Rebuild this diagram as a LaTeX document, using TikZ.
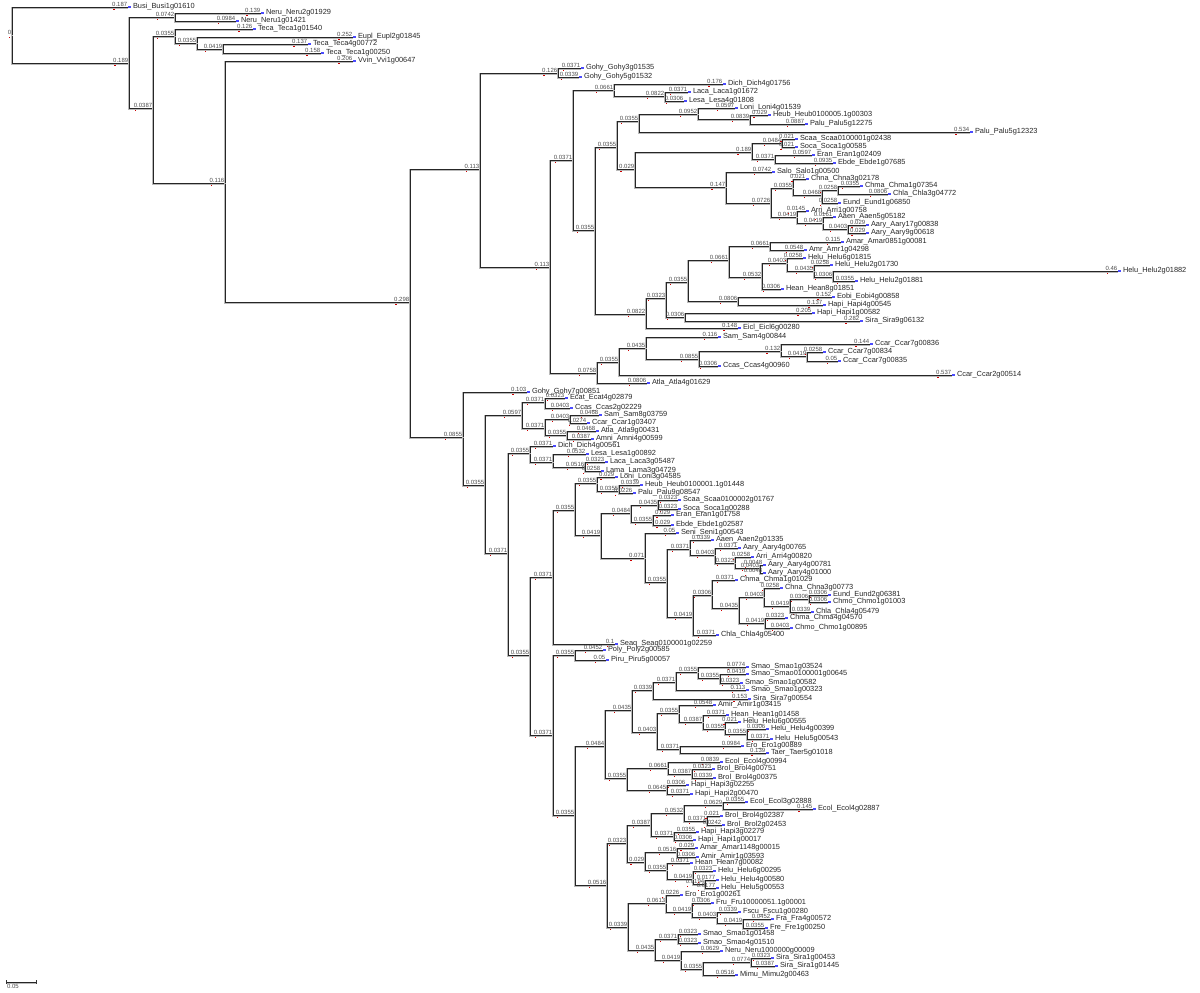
\documentclass[tikz,border=0pt]{standalone}
\usepackage{fontspec}
\setmainfont{Liberation Sans}
\usepackage{tikz}

\newdimen\brxa
\newdimen\brxb
% branch length above a branch, computed from its drawn length
\newcommand{\branchlabel}[2]{%
  \pgfextractx{\brxa}{\pgfpointanchor{#1}{center}}%
  \pgfextractx{\brxb}{\pgfpointanchor{#2}{center}}%
  \pgfmathsetmacro\brlen{(\brxb-\brxa)/310}%
  \pgfmathtruncatemacro\brprec{\brlen<0.1 ? 4 : 3}%
  \node[blen] (#2-bl) at (#2) {\pgfmathprintnumber[fixed,precision=\brprec,assume math mode=true]{\brlen}};%
  \fill[redtick] ([xshift=1pt,yshift=-0.9pt]#2-bl.south west) rectangle ++(0.7pt,-0.7pt);%
}

\begin{document}
\begin{tikzpicture}[x=0.5pt, y=-0.5pt,
    branch/.style={draw=black!85, line width=0.45pt,
      preaction={draw=gray!55, line width=0.75pt, transform canvas={yshift=-0.45pt}}},
    blen/.style={anchor=south east, inner sep=0.2pt, font=\fontsize{3}{3}\selectfont, text=black!70},
    leafname/.style={anchor=west, inner sep=0.3pt, xshift=2pt, font=\fontsize{3.7}{3.7}\selectfont, text=black!85},
    redtick/.style={fill=red!80!black},
    bluetick/.style={fill=blue!70}]
  \useasboundingbox (0,0) rectangle (1200,992);

  % root
  \coordinate (n0) at (12,35);
  \node[blen] (n0-bl) at (n0) {0};
  \fill[redtick] ([xshift=1pt,yshift=-0.9pt]n0-bl.south west) rectangle ++(0.7pt,-0.7pt);

  % internal nodes: parent/name/x/y
  \foreach \p/\n/\x/\y in {n0/nA/129/63, nA/nNeru/175/17, nA/nB/153/108, nB/nTeca/175/36,
      nTeca/nEu/197/43, nEu/nTe2/223/49, nB/nC/225/183, nC/nD/410/302,
      nD/nE/480/169, nE/nGohy/558/73, nE/nG/550/267, nG/nH/573/160, nH/nJ/614/90,
      nJ/nLa/665/96, nH/nK/595/230, nK/nL/617/147, nL/nM/639/121, nM/nLo/698/114,
      nLo/nHe/750/119, nL/nN/635/169, nN/nO/752/152, nO/nSc/782/143, nO/nEr/775/159,
      nN/nP/726/187, nP/nCh/771/203, nCh/nCa/793/188, nCa/nCb/822/195, nCb/nCc/838/190,
      nCh/nAr/797/217, nAr/nAa/823/223, nAa/nAy/848/229, nK/nQ/646/314, nQ/nQ1/666/298,
      nQ1/nQ2/688/282, nQ2/nQ3/729/260, nQ3/nAm/770/246, nQ3/nHl/762/277, nHl/nR/787/263,
      nR/nS/814/271, nS/nT/833/277, nQ2/nEo/738/301, nQ1/nHp/685/317,
      nG/nI/597/373, nI/nI2/619/362, nI2/nSm/646/348, nSm/nCc2/699/359, nCc2/nCc3/781/351,
      nCc3/nCc4/807/356,
      nD/nF/463/437, nF/nF2/485/485, nF2/nF3/522/415, nF3/nBr/545/402, nF3/nSa/545/428,
      nSa/nSa2/570/419, nSa/nAt/567/435, nF2/nF4/508/553, nF4/nDi/530/453, nDi/nLe/553/462,
      nLe/nLa2/585/467, nF4/nF5/530/655, nF5/nU/553/577, nU/nU1/575/510, nU1/nLn/597/483,
      nLn/nHb/619/491, nU1/nU2/601/535, nU2/nSo/631/513, nSo/nSo1/658/505, nSo/nEr2/653/522,
      nU2/nSe/645/558, nSe/nAe/667/582, nAe/nAe1/690/549, nAe1/nAr2/715/555, nAr2/nAr3/735/563,
      nAr3/nAr4/760/568, nAe/nCm/693/617, nCm/nCm1/712/595, nCm1/nCm2/739/608,
      nCm2/nCm3/764/597, nCm3/nCm5/790/606, nCm5/nCm6/809/599, nCm2/nCm4/765/623,
      nF5/nV/553/735, nV/nPo/575/655, nV/nW/575/815, nW/nX/605/746, nX/nSm1/632/710,
      nSm1/nSm2/653/690, nSm2/nSm3/676/682, nSm3/nSm4/698/672, nSm4/nSm5/720/678,
      nSm1/nAm2/657/732, nAm2/nAm3/679/713, nAm3/nHe2/703/722, nHe2/nHl2/725/729,
      nHl2/nHl3/747/734, nAm2/nEr3/680/749, nX/nBr2/627/778, nBr2/nEc/668/768,
      nEc/nBo/692/774, nBr2/nHa/667/790, nW/nY/607/885, nY/nZ/627/843, nZ/nZ1/651/825,
      nZ1/nZ3/684/813, nZ3/nEc2/723/805, nZ3/nBr3/707/821, nZ1/nHp2/674/836,
      nZ/nZ2/645/862, nZ2/nAr5/677/852, nZ2/nHn/667/870, nHn/nHl4/693/879,
      nHl4/nHl5/705/884, nY/nFr/628/927, nFr/nFr1/666/903, nFr1/nFr2/692/912,
      nFr2/nFr3/717/917, nFr3/nFr4/743/923, nFr/nSm6/655/950, nSm6/nSm7/678/939,
      nSm6/nNe/681/960, nNe/nSi/703/969, nSi/nSi2/751/962} {
    \coordinate (\n) at (\x,\y);
    \draw[branch] (\p) |- (\n);
    \branchlabel{\p}{\n}
  }

  % leaves: parent/name/x/y/gene
  \foreach \p/\n/\x/\y/\t in {n0/t1/128/7/Busi\_Busi1g01610,
      nNeru/t2/261/13/Neru\_Neru2g01929, nNeru/t3/236/21/Neru\_Neru1g01421,
      nTeca/t4/253/29/Teca\_Teca1g01540, nEu/t5/353/37/Eupl\_Eupl2g01845,
      nTe2/t6/308/44/Teca\_Teca4g00772, nTe2/t7/321/53/Teca\_Teca1g00250,
      nC/t8/353/61/Vvin\_Vvi1g00647, nGohy/t9/581/68/Gohy\_Gohy3g01535,
      nGohy/t10/579/77/Gohy\_Gohy5g01532, nJ/t11/723/84/Dich\_Dich4g01756,
      nLa/t12/688/92/Laca\_Laca1g01672, nLa/t13/684/101/Lesa\_Lesa4g01808,
      nLo/t14/735/108/Loni\_Loni4g01539, nHe/t15/768/115/Heub\_Heub0100005.1g00303,
      nHe/t16/805/124/Palu\_Palu5g12275, nM/t17/970/132/Palu\_Palu5g12323,
      nSc/t18/795/139/Scaa\_Scaa0100001g02438, nSc/t19/795/147/Soca\_Soca1g00585,
      nEr/t20/812/155/Eran\_Eran1g02409, nEr/t21/833/163/Ebde\_Ebde1g07685,
      nP/t22/772/172/Salo\_Salo1g00500, nCa/t23/806/179/Chna\_Chna3g02178,
      nCc/t24/860/186/Chma\_Chma1g07354, nCc/t25/888/194/Chla\_Chla3g04772,
      nCb/t26/838/203/Eund\_Eund1g06850, nAr/t27/806/211/Arri\_Arri1g00758,
      nAa/t28/833/217/Aaen\_Aaen5g05182, nAy/t29/866/225/Aary\_Aary17g00838,
      nAy/t30/866/233/Aary\_Aary9g00618, nAm/t31/841/242/Amar\_Amar0851g00081,
      nAm/t32/804/250/Amr\_Amr1g04298, nR/t33/803/258/Helu\_Helu6g01815,
      nS/t34/830/265/Helu\_Helu2g01730, nT/t35/1118/271/Helu\_Helu2g01882,
      nT/t36/855/281/Helu\_Helu2g01881, nHl/t37/781/289/Hean\_Hean8g01851,
      nEo/t38/832/297/Eobi\_Eobi4g00858, nEo/t39/823/305/Hapi\_Hapi4g00545,
      nHp/t40/812/313/Hapi\_Hapi1g00582, nHp/t41/860/321/Sira\_Sira9g06132,
      nQ/t42/738/328/Eicl\_Eicl6g00280, nSm/t43/718/337/Sam\_Sam4g00844,
      nCc3/t44/870/344/Ccar\_Ccar7g00836, nCc4/t45/823/352/Ccar\_Ccar7g00834,
      nCc4/t46/838/361/Ccar\_Ccar7g00835, nCc2/t47/718/366/Ccas\_Ccas4g00960,
      nI2/t48/952/375/Ccar\_Ccar2g00514, nI/t49/647/383/Atla\_Atla4g01629,
      nF/t50/527/392/Gohy\_Gohy7g00851, nBr/t51/565/398/Ecat\_Ecat4g02879,
      nBr/t52/570/408/Ccas\_Ccas2g02229, nSa2/t53/599/415/Sam\_Sam8g03759,
      nSa2/t54/587/423/Ccar\_Ccar1g03407, nAt/t55/596/431/Atla\_Atla9g00431,
      nAt/t56/591/439/Amni\_Amni4g00599, nDi/t57/553/446/Dich\_Dich4g00561,
      nLe/t58/586/454/Lesa\_Lesa1g00892, nLa2/t59/605/462/Laca\_Laca3g05487,
      nLa2/t60/601/471/Lama\_Lama3g04729, nLn/t61/615/477/Loni\_Loni3g04585,
      nHb/t62/640/485/Heub\_Heub0100001.1g01448, nHb/t63/633/493/Palu\_Palu9g08547,
      nSo1/t64/678/500/Scaa\_Scaa0100002g01767, nSo1/t65/678/509/Soca\_Soca1g00288,
      nEr2/t66/671/515/Eran\_Eran1g01758, nEr2/t67/671/525/Ebde\_Ebde1g02587,
      nSe/t68/676/533/Seni\_Seni1g00543, nAe1/t69/711/540/Aaen\_Aaen2g01335,
      nAr2/t70/738/548/Aary\_Aary4g00765, nAr3/t71/751/557/Arri\_Arri4g00820,
      nAr4/t72/763/565/Aary\_Aary4g00781, nAr4/t73/763/573/Aary\_Aary4g01000,
      nCm1/t74/735/580/Chma\_Chma1g01029, nCm3/t75/780/588/Chna\_Chna3g00773,
      nCm6/t76/828/595/Eund\_Eund2g06381, nCm6/t77/828/602/Chmo\_Chmo1g01003,
      nCm5/t78/811/612/Chla\_Chla4g05479, nCm4/t79/785/618/Chma\_Chma4g04570,
      nCm4/t80/790/628/Chmo\_Chmo1g00895, nCm/t81/716/635/Chla\_Chla4g05400,
      nU/t82/615/644/Seaq\_Seaq0100001g02259, nPo/t83/603/650/Poly\_Poly2g00585,
      nPo/t84/606/660/Piru\_Piru5g00057, nSm4/t85/746/667/Smao\_Smao1g03524,
      nSm5/t86/746/674/Smao\_Smao0100001g00645, nSm5/t87/740/683/Smao\_Smao1g00582,
      nSm3/t88/746/690/Smao\_Smao1g00323, nSm2/t89/748/699/Sira\_Sira7g00554,
      nAm3/t90/713/705/Amir\_Amir1g03415, nHe2/t91/726/715/Hean\_Hean1g01458,
      nHl2/t92/738/722/Helu\_Helu6g00555, nHl3/t93/766/729/Helu\_Helu4g00399,
      nHl3/t94/770/739/Helu\_Helu5g00543, nEr3/t95/741/746/Ero\_Ero1g00889,
      nEr3/t96/766/753/Taer\_Taer5g01018, nEc/t97/720/762/Ecol\_Ecol4g00994,
      nBo/t98/712/769/Brol\_Brol4g00751, nBo/t99/713/778/Brol\_Brol4g00375,
      nHa/t100/686/785/Hapi\_Hapi3g02255, nHa/t101/690/794/Hapi\_Hapi2g00470,
      nEc2/t102/745/802/Ecol\_Ecol3g02888, nEc2/t103/813/809/Ecol\_Ecol4g02887,
      nBr3/t104/720/816/Brol\_Brol4g02387, nBr3/t105/722/825/Brol\_Brol2g02453,
      nHp2/t106/696/832/Hapi\_Hapi3g02279, nHp2/t107/693/840/Hapi\_Hapi1g00017,
      nAr5/t108/695/848/Amar\_Amar1148g00015, nAr5/t109/696/857/Amir\_Amir1g03593,
      nHn/t110/690/863/Hean\_Hean7g00082, nHl4/t111/713/871/Helu\_Helu6g00295,
      nHl5/t112/716/880/Helu\_Helu4g00580, nHl5/t113/716/888/Helu\_Helu5g00553,
      nFr1/t114/680/895/Ero\_Ero1g00261, nFr2/t115/711/903/Fru\_Fru10000051.1g00001,
      nFr3/t116/738/912/Fscu\_Fscu1g00280, nFr4/t117/771/919/Fra\_Fra4g00572,
      nFr4/t118/765/928/Fre\_Fre1g00250, nSm7/t119/698/934/Smao\_Smao1g01458,
      nSm7/t120/698/943/Smao\_Smao4g01510, nNe/t121/720/951/Neru\_Neru1000000g00009,
      nSi2/t122/771/958/Sira\_Sira1g00453, nSi2/t123/775/966/Sira\_Sira1g01445,
      nSi/t124/735/975/Mimu\_Mimu2g00463} {
    \coordinate (\n) at (\x,\y);
    \draw[branch] (\p) |- (\n);
    \branchlabel{\p}{\n}
    \fill[bluetick] (\n) ++(0,-0.6pt) rectangle ++(1.4pt,1.2pt);
    \node[leafname] (\n-name) at (\n) {\t};
  }

  % scale bar
  \coordinate (sb0) at (6,982);
  \coordinate (sb1) at (36,982);
  \draw[branch] (sb0) -- (sb1);
  \draw[black!80, line width=0.4pt] (sb0) ++(0,-2) -- ++(0,4) (sb1) ++(0,-2) -- ++(0,4);
  \node[anchor=north west, inner sep=0.3pt, font=\fontsize{3}{3}\selectfont, text=black!70] (sblabel) at ([yshift=-0.8pt]sb0) {0.05};
\end{tikzpicture}
\end{document}
